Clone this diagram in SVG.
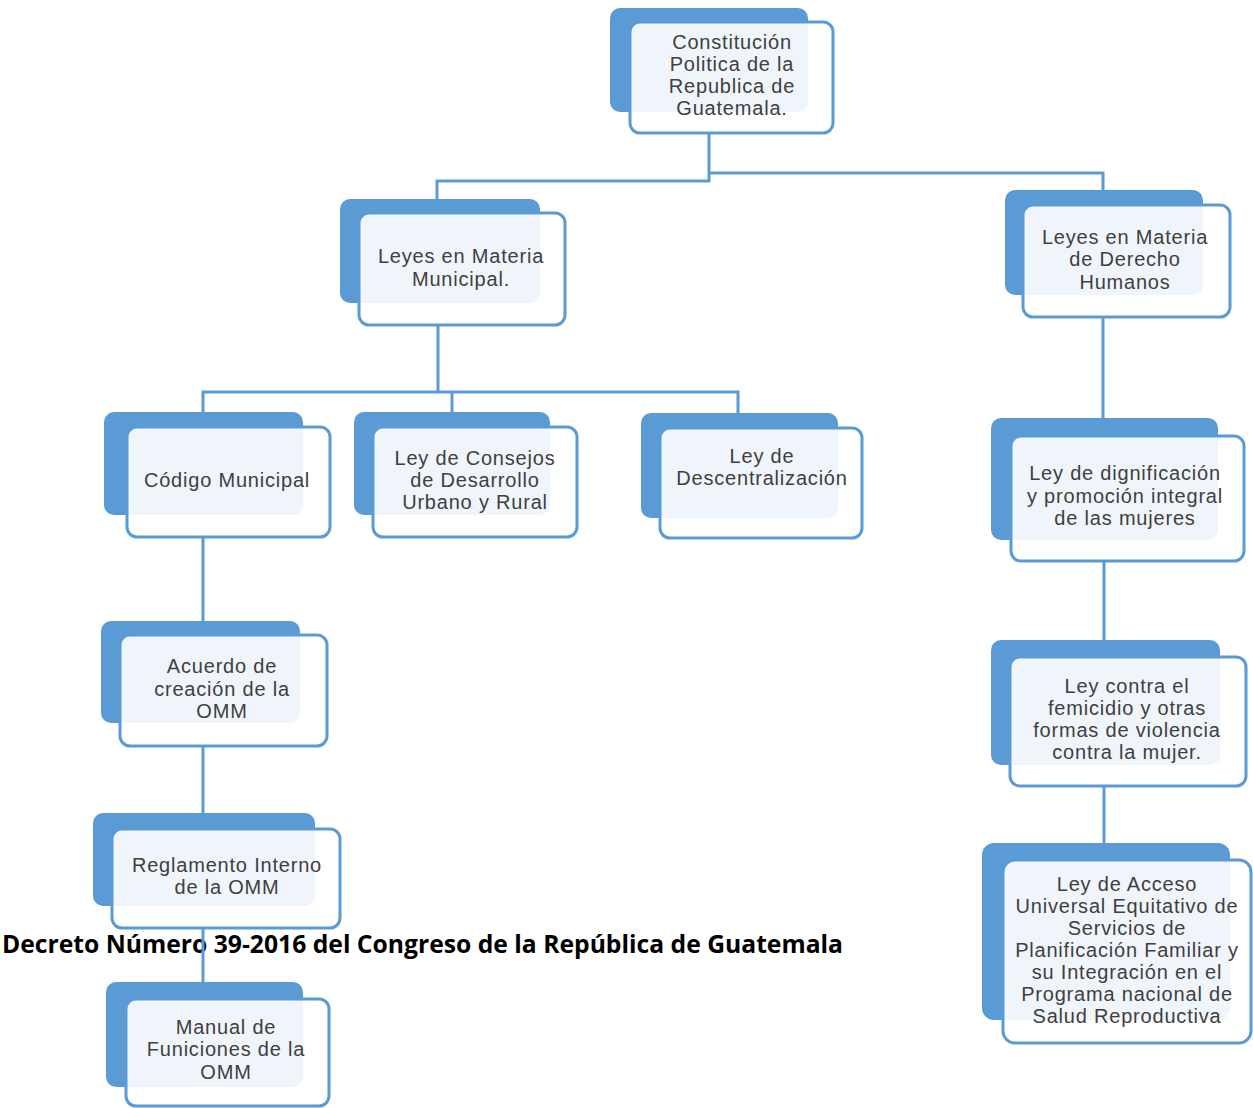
<svg xmlns="http://www.w3.org/2000/svg" width="1253" height="1108" viewBox="0 0 1253 1108">
<style>
.back{fill:#5b9bd5}
.front{fill:#ffffff;fill-opacity:0.9;stroke:#5b9bd5;stroke-width:3}
.t{font-family:"Liberation Sans",Arial,sans-serif;font-size:20px;letter-spacing:0.8px;fill:#404040;text-anchor:middle}
.c{fill:none;stroke:#5b9bd5;stroke-width:3}
.title{font-family:"Open Sans","Liberation Sans",sans-serif;font-weight:bold;font-size:25px;fill:#000}
</style>
<rect width="1253" height="1108" fill="#ffffff"/>
<text class="title" x="2" y="953" textLength="841" lengthAdjust="spacingAndGlyphs">Decreto Número 39-2016 del Congreso de la República de Guatemala</text>
<g id="connectors">
<path class="c" d="M709,133 V181 H437 V199"/>
<path class="c" d="M709,173 H1103 V190"/>
<path class="c" d="M438,325 V392 H203 V412 M438,392 H738 V413 M452,392 V412"/>
<path class="c" d="M203,537 V621"/>
<path class="c" d="M203,746 V813"/>
<path class="c" d="M203,928 V982"/>
<path class="c" d="M1103,317 V418"/>
<path class="c" d="M1104,562 V640"/>
<path class="c" d="M1104,786 V843"/>
</g>
<g id="n1">
<rect class="back" x="610" y="8" width="198" height="104" rx="10"/>
<rect class="front" x="630" y="22" width="203" height="111" rx="10"/>
<text class="t"><tspan x="732" y="49">Constitución</tspan><tspan x="732" y="71">Politica de la</tspan><tspan x="732" y="93">Republica de</tspan><tspan x="732" y="115">Guatemala.</tspan></text>
</g>
<g id="n2">
<rect class="back" x="340" y="199" width="200" height="104" rx="10"/>
<rect class="front" x="359" y="213" width="206" height="112" rx="10"/>
<text class="t"><tspan x="461" y="263">Leyes  en Materia</tspan><tspan x="461" y="286">Municipal.</tspan></text>
</g>
<g id="n3">
<rect class="back" x="1005" y="190" width="198" height="105" rx="10"/>
<rect class="front" x="1023" y="205" width="207" height="112" rx="10"/>
<text class="t"><tspan x="1125" y="244">Leyes en Materia</tspan><tspan x="1125" y="266">de Derecho</tspan><tspan x="1125" y="289">Humanos</tspan></text>
</g>
<g id="n4">
<rect class="back" x="104" y="412" width="199" height="103" rx="10"/>
<rect class="front" x="127" y="427" width="203" height="110" rx="10"/>
<text class="t"><tspan x="227" y="487">Código Municipal</tspan></text>
</g>
<g id="n5">
<rect class="back" x="354" y="412" width="196" height="103" rx="10"/>
<rect class="front" x="373" y="427" width="204" height="110" rx="10"/>
<text class="t"><tspan x="475" y="465">Ley de Consejos</tspan><tspan x="475" y="487">de Desarrollo</tspan><tspan x="475" y="509">Urbano  y Rural</tspan></text>
</g>
<g id="n6">
<rect class="back" x="641" y="413" width="197" height="105" rx="10"/>
<rect class="front" x="660" y="428" width="202" height="110" rx="10"/>
<text class="t"><tspan x="762" y="463">Ley de</tspan><tspan x="762" y="485">Descentralización</tspan></text>
</g>
<g id="n7">
<rect class="back" x="991" y="418" width="227" height="122" rx="10"/>
<rect class="front" x="1011" y="436" width="233" height="125" rx="10"/>
<text class="t"><tspan x="1125" y="480">Ley de dignificación</tspan><tspan x="1125" y="503">y promoción integral</tspan><tspan x="1125" y="525">de las mujeres</tspan></text>
</g>
<g id="n8">
<rect class="back" x="101" y="621" width="199" height="102" rx="10"/>
<rect class="front" x="120" y="635" width="207" height="111" rx="10"/>
<text class="t"><tspan x="222" y="673">Acuerdo de</tspan><tspan x="222" y="696">creación de la</tspan><tspan x="222" y="718">OMM</tspan></text>
</g>
<g id="n9">
<rect class="back" x="93" y="813" width="222" height="93" rx="10"/>
<rect class="front" x="112" y="829" width="228" height="99" rx="10"/>
<text class="t"><tspan x="227" y="872">Reglamento  Interno</tspan><tspan x="227" y="894">de la OMM</tspan></text>
</g>
<g id="n10">
<rect class="back" x="106" y="982" width="197" height="105" rx="10"/>
<rect class="front" x="126" y="999" width="203" height="107" rx="10"/>
<text class="t"><tspan x="226" y="1034">Manual de</tspan><tspan x="226" y="1056">Funiciones de la</tspan><tspan x="226" y="1079">OMM</tspan></text>
</g>
<g id="n11">
<rect class="back" x="991" y="640" width="229" height="125" rx="10"/>
<rect class="front" x="1010" y="657" width="236" height="129" rx="10"/>
<text class="t"><tspan x="1127" y="693">Ley contra  el</tspan><tspan x="1127" y="715">femicidio  y otras</tspan><tspan x="1127" y="737">formas de violencia</tspan><tspan x="1127" y="759">contra  la mujer.</tspan></text>
</g>
<g id="n12">
<rect class="back" x="982" y="843" width="248" height="177" rx="12"/>
<rect class="front" x="1003" y="860" width="248" height="183" rx="12"/>
<text class="t"><tspan x="1127" y="891">Ley  de Acceso</tspan><tspan x="1127" y="913">Universal Equitativo de</tspan><tspan x="1127" y="935">Servicios de</tspan><tspan x="1127" y="957">Planificación Familiar y</tspan><tspan x="1127" y="979">su Integración en  el</tspan><tspan x="1127" y="1001">Programa nacional de</tspan><tspan x="1127" y="1023">Salud  Reproductiva</tspan></text>
</g>
</svg>
